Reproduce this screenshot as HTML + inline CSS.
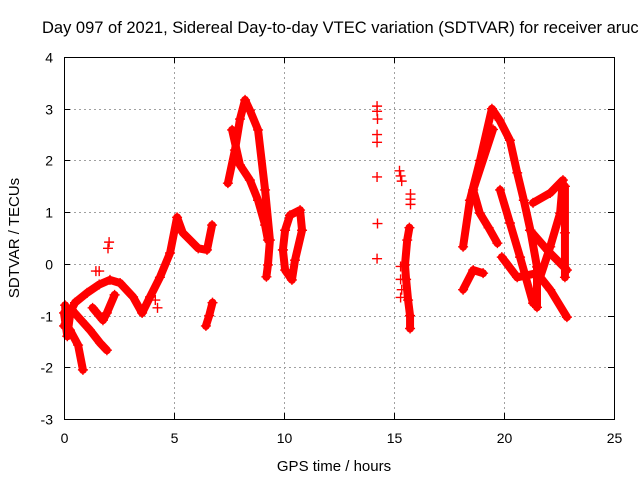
<!DOCTYPE html>
<html><head><meta charset="utf-8"><style>
html,body{margin:0;padding:0;background:#fff;overflow:hidden;}
svg{display:block;font-family:"Liberation Sans",Arial,sans-serif;}
</style></head><body>
<svg id="chart" width="640" height="480" viewBox="0 0 640 480">
<text x="42" y="33" font-size="16.5" fill="#000">Day 097 of 2021, Sidereal Day-to-day VTEC variation (SDTVAR) for receiver aruc</text>
<g id="grid"></g>
<g id="ticks"></g>
<g id="marks"></g>
<rect x="64.5" y="57.5" width="550" height="362" fill="none" stroke="#000" stroke-width="1"/>
<text x="334" y="471" font-size="15" text-anchor="middle">GPS time / hours</text>
<text transform="translate(19,238) rotate(-90)" font-size="15" text-anchor="middle">SDTVAR / TECUs</text>
</svg>
<script>
const xTicks=[0,5,10,15,20,25];
const yTicks=[-3,-2,-1,0,1,2,3,4];
// tracks of [hour, SDTVAR]
const trackMain=[[0.09,-1.09],[0.5,-0.75],[1.05,-0.56],[1.6,-0.4],[2.09,-0.31],[2.55,-0.37],[3.14,-0.64],[3.55,-0.95],[3.91,-0.64],[4.36,-0.26],[4.82,0.21],[5.14,0.9],[5.4,0.6],[5.73,0.46],[6.1,0.3],[6.5,0.27],[6.73,0.75]];
const trackDrop1=[[0.05,-0.8],[0.1,-1.2],[0.27,-1.28],[0.64,-1.57],[0.86,-2.05]];
const trackDrop2=[[0.36,-0.89],[0.8,-1.1],[1.18,-1.28],[1.64,-1.53],[1.95,-1.67]];
const trackDrop3=[[1.3,-0.85],[1.77,-1.09],[1.95,-0.95],[2.3,-0.6]];
const trackLeft=[[0.0,-0.95],[0.15,-1.4],[0.3,-0.9],[0.0,-1.2]];
const blobs=[[1.45,-0.14],[1.6,-0.14],[2.0,0.3],[2.05,0.42],[4.15,-0.7],[4.25,-0.85]];
const trackLate=[[6.45,-1.2],[6.6,-1.0],[6.75,-0.75]];
const trackPeakA=[[7.45,1.56],[7.77,2.2],[8.0,2.8],[8.23,3.17],[8.45,2.97],[8.82,2.59],[9.14,1.43],[9.36,0.46],[9.27,-0.02],[9.2,-0.25]];
const trackPeakB=[[7.64,2.59],[8.0,1.91],[8.45,1.62],[8.82,1.23],[9.14,0.75],[9.27,0.46]];
const trackLoop=[[9.95,0.27],[10.05,0.65],[10.27,0.94],[10.73,1.04],[10.82,0.65],[10.5,0.07],[10.36,-0.31],[10.05,-0.12],[9.95,0.27]];
const scatter14=[[14.23,3.05],[14.23,2.95],[14.25,2.8],[14.23,2.5],[14.23,2.35],[14.23,1.68],[14.25,0.78],[14.23,0.1]];
const scatter15=[[15.25,1.8],[15.3,1.7],[15.35,1.6],[15.3,-0.05],[15.3,-0.3],[15.35,-0.5],[15.3,-0.65],[15.75,1.35],[15.75,1.25],[15.75,1.15]];
const track15=[[15.7,0.7],[15.6,0.46],[15.5,-0.02],[15.55,-0.3],[15.64,-0.7],[15.73,-1.0],[15.73,-1.25]];
const trackP=[[18.14,0.33],[18.45,1.23],[18.91,2.0],[19.45,3.0],[19.8,2.78],[20.27,2.39],[20.6,1.76],[20.9,1.23],[21.2,0.65],[21.5,-0.06],[21.5,-0.84]];
const trackQ=[[19.5,2.6],[18.6,1.43],[18.9,0.98],[19.3,0.7],[19.7,0.4]];
const trackR=[[19.82,1.43],[20.27,0.79],[20.73,0.13],[21.32,-0.76]];
const trackS=[[19.9,0.13],[20.6,-0.26],[21.5,-0.18],[22.1,-0.5],[22.86,-1.03]];
const trackT=[[21.32,1.18],[22.1,1.37],[22.68,1.62],[22.55,0.98],[22.1,0.33],[21.64,-0.26]];
const trackU=[[18.14,-0.5],[18.6,-0.12],[19.05,-0.18]];
const trackV=[[21.18,0.65],[22.0,0.25],[22.86,-0.12]];
const trackW=[[22.77,1.5],[22.77,0.6],[22.77,-0.26]];
const tracks=[trackMain,trackDrop1,trackDrop2,trackDrop3,trackLeft,trackLate,trackPeakA,trackPeakB,trackLoop,track15,trackP,trackQ,trackR,trackS,trackT,trackU,trackV,trackW];
const points=[blobs,scatter14,scatter15];

const NS="http://www.w3.org/2000/svg";
const X0=64,X1=614,Y0=419,Y1=57,xmin=0,xmax=25,ymin=-3,ymax=4;
const xs=v=>X0+(v-xmin)/(xmax-xmin)*(X1-X0);
const ys=v=>Y0-(v-ymin)/(ymax-ymin)*(Y0-Y1);
function mk(tag,attrs,parent){const e=document.createElementNS(NS,tag);for(const k in attrs)e.setAttribute(k,attrs[k]);parent.appendChild(e);return e;}
const grid=document.getElementById('grid'),ticks=document.getElementById('ticks'),marks=document.getElementById('marks');
xTicks.forEach(t=>{const x=Math.round(xs(t))+0.5;
 if(t>xmin&&t<xmax){const g=mk('line',{x1:x,x2:x,y1:Y1,y2:Y0,stroke:'#a0a0a0','stroke-dasharray':'2,3'},grid);
 
 }
 mk('line',{x1:x,x2:x,y1:Y0,y2:Y0-6,stroke:'#000'},ticks);mk('line',{x1:x,x2:x,y1:Y1,y2:Y1+6,stroke:'#000'},ticks);
 const l=mk('text',{x:x,y:443,'font-size':14,'text-anchor':'middle'},ticks);l.textContent=t;
 
 });
yTicks.forEach(t=>{const y=Math.round(ys(t))+0.5;
 if(t>ymin&&t<ymax){const g=mk('line',{x1:X0,x2:X1,y1:y,y2:y,stroke:'#a0a0a0','stroke-dasharray':'2,3'},grid);
 
 }
 mk('line',{x1:X0,x2:X0+6,y1:y,y2:y,stroke:'#000'},ticks);mk('line',{x1:X1,x2:X1-6,y1:y,y2:y,stroke:'#000'},ticks);
 const l=mk('text',{x:53,y:y+5,'font-size':14,'text-anchor':'end'},ticks);l.textContent=t;
 
 });
function plus(h,v){const x=xs(h),y=ys(v);
 const p=mk('path',{d:`M${x-5},${y}H${x+5}M${x},${y-5}V${y+5}`,stroke:'#f00','stroke-width':1.4,fill:'none'},marks);
 
 }
tracks.forEach(tr=>{
 const pl=mk('polyline',{points:tr.map(p=>xs(p[0])+','+ys(p[1])).join(' '),fill:'none',stroke:'#f00','stroke-width':8,'stroke-linejoin':'round','stroke-linecap':'round'},marks);
 
 
 tr.forEach(p=>plus(p[0],p[1]));});
points.forEach(ps=>ps.forEach(p=>plus(p[0],p[1])));
</script>
</body></html>
